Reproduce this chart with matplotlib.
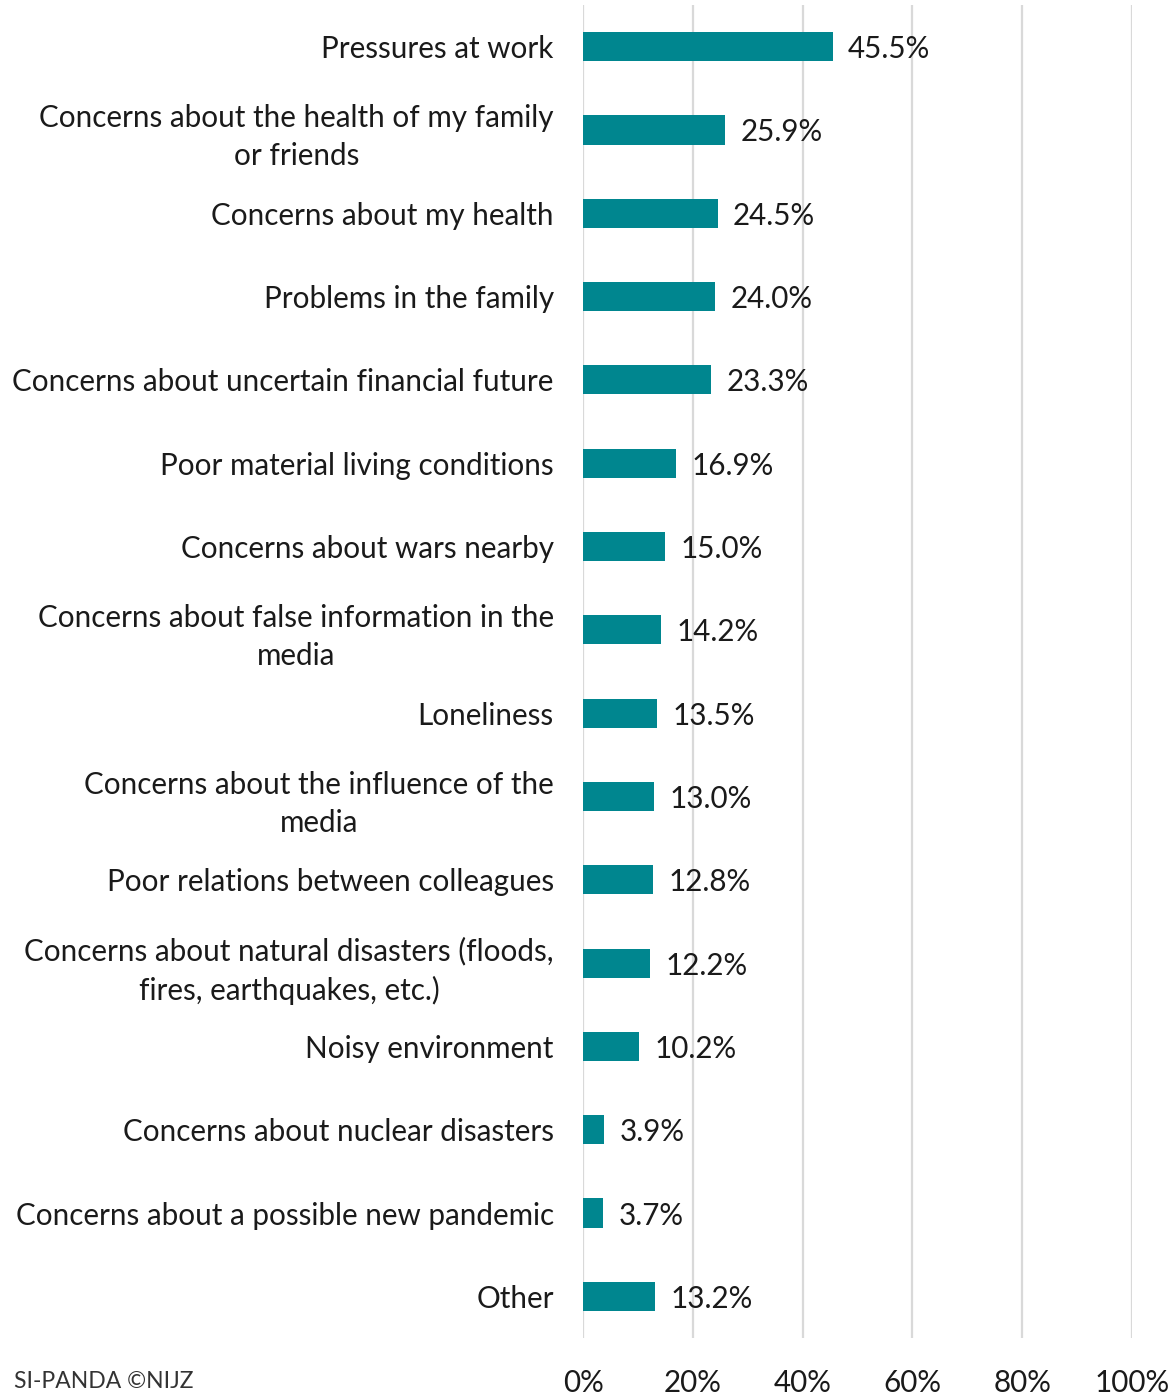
import matplotlib
matplotlib.use('Agg')
import matplotlib.pyplot as plt
import numpy as np

plt.rcParams['font.family'] = ['Lato', 'DejaVu Sans']

# stress sources, top to bottom
categories = [
    'Pressures at work',
    'Concerns about the health of my family\nor friends',
    'Concerns about my health',
    'Problems in the family',
    'Concerns about uncertain financial future',
    'Poor material living conditions',
    'Concerns about wars nearby',
    'Concerns about false information in the\nmedia',
    'Loneliness',
    'Concerns about the influence of the\nmedia',
    'Poor relations between colleagues',
    'Concerns about natural disasters (floods,\nfires, earthquakes, etc.)',
    'Noisy environment',
    'Concerns about nuclear disasters',
    'Concerns about a possible new pandemic',
    'Other',
]
values = [45.5, 25.9, 24.5, 24.0, 23.3, 16.9, 15.0, 14.2, 13.5, 13.0, 12.8, 12.2, 10.2, 3.9, 3.7, 13.2]
xticks = [0, 20, 40, 60, 80, 100]

teal = '#00868F'
txt = '#1a1a1a'

fig = plt.figure(figsize=(11.75, 13.95), dpi=100)
ax = fig.add_axes([583/1175, 1 - 1338/1395, (1132 - 583)/1175, (1338 - 5)/1395])

y = np.arange(len(categories))
ax.barh(y, values, height=0.35, color=teal, zorder=3)

for yi, v in zip(y, values):
    ax.text(v + 2.8, yi, f'{v:.1f}%', va='center_baseline', ha='left',
            fontsize=21.3, color=txt, zorder=4)

ax.set_xlim(0, 100)
ax.set_ylim(len(categories) - 0.5, -0.5)
ax.set_xticks(xticks)
ax.set_xticklabels([f'{t}%' for t in xticks])
ax.set_yticks(y)
ax.set_yticklabels(categories)
for lbl in ax.get_yticklabels():
    lbl.set_multialignment('center')
    lbl.set_linespacing(1.42)

ax.tick_params(axis='y', length=0, pad=21, labelsize=21.3, labelcolor=txt)
ax.tick_params(axis='x', length=0, pad=22, labelsize=21.3, labelcolor=txt)
ax.grid(axis='x', color='#d9d9d9', linewidth=1.6, zorder=0)
for s in ax.spines.values():
    s.set_visible(False)

fig.text(14/1175, 1 - 1382/1395, 'SI-PANDA ©NIJZ', ha='left', va='center',
         fontsize=16.5, color='#333333')

fig.savefig('out.png', dpi=100)
